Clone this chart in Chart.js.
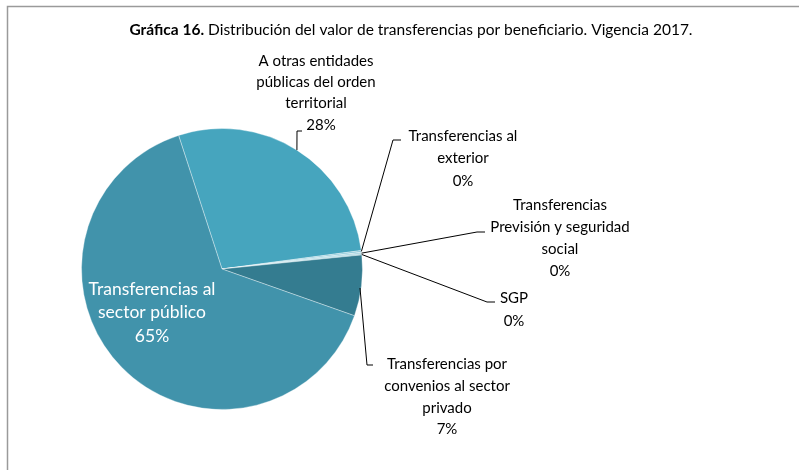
<!DOCTYPE html>
<html>
<head>
<meta charset="utf-8">
<script src="https://cdn.jsdelivr.net/npm/chart.js@4/dist/chart.umd.min.js"></script>
<style>
  html, body { margin: 0; padding: 0; background: #ffffff; }
  #wrap { position: relative; width: 799px; height: 470px; }
</style>
</head>
<body>
<div id="wrap"><canvas id="c" width="799" height="470"></canvas></div>
<script>
// ---- Data ----
const categories = [
  "A otras entidades públicas del orden territorial",
  "Transferencias al exterior",
  "Transferencias Previsión y seguridad social",
  "SGP",
  "Transferencias por convenios al sector privado",
  "Transferencias al sector público"
];
const labelLines = [
  ["A otras entidades", "públicas del orden", "territorial"],
  ["Transferencias al", "exterior"],
  ["Transferencias", "Previsión y seguridad", "social"],
  ["SGP"],
  ["Transferencias por", "convenios al sector", "privado"],
  ["Transferencias al", "sector público"]
];
const shares = [27.9, 0.2, 0.2, 0.1, 7.0, 64.6];
const sliceColors = ["#46a5be", "#8cc8d9", "#a8d6e2", "#6db6ca", "#347c90", "#4193ab"];

// ---- Label layout (positions only) ----
const FONT = "Lato, 'Open Sans', sans-serif";
const labelLayout = [
  { cx: 316, ys: [61, 82, 103, 125], pctX: 321, elbow: [297, 131], end: [302, 131] },
  { cx: 463, ys: [136, 158, 181], elbow: [393, 140], end: [401, 140] },
  { cx: 560, ys: [205, 227, 249, 271], elbow: [477, 232], end: [485, 232] },
  { cx: 514, ys: [298, 321], elbow: [487, 302], end: [495, 302] },
  { cx: 447, ys: [364, 386, 408, 429], elbow: [367, 365], end: [373, 365], from: [360, 288] },
  { cx: 152, ys: [289, 312, 336], inside: true }
];

const labelPlugin = {
  id: 'pieLabels',
  afterDraw(chart) {
    const ctx = chart.ctx;
    const meta = chart.getDatasetMeta(0);
    const data = chart.data.datasets[0].data;
    const total = data.reduce((a, b) => a + b, 0);
    ctx.save();
    // frame
    ctx.strokeStyle = '#9a9a9a';
    ctx.lineWidth = 1.5;
    ctx.beginPath();
    ctx.moveTo(7.5, 470);
    ctx.lineTo(7.5, 6.5);
    ctx.lineTo(799, 6.5);
    ctx.stroke();

    // title
    ctx.textBaseline = 'middle';
    ctx.fillStyle = '#000000';
    const t1 = 'Gráfica 16.';
    const t2 = ' Distribución del valor de transferencias por beneficiario. Vigencia 2017.';
    ctx.font = 'bold 15.5px ' + FONT;
    const w1 = ctx.measureText(t1).width;
    ctx.font = '15.5px ' + FONT;
    const w2 = ctx.measureText(t2).width;
    let tx = 411 - (w1 + w2) / 2;
    ctx.textAlign = 'left';
    ctx.font = 'bold 15.5px ' + FONT;
    ctx.fillText(t1, tx, 30);
    ctx.font = '15.5px ' + FONT;
    ctx.fillText(t2, tx + w1, 30);

    // labels
    meta.data.forEach((arc, i) => {
      const L = labelLayout[i];
      const p = arc.getProps(['x', 'y', 'startAngle', 'endAngle', 'outerRadius'], true);
      const mid = (p.startAngle + p.endAngle) / 2;
      const ax = p.x + p.outerRadius * Math.cos(mid);
      const ay = p.y + p.outerRadius * Math.sin(mid);
      const pct = Math.round(data[i] / total * 100) + '%';
      const lines = labelLines[i].concat([pct]);
      if (!L.inside) {
        ctx.strokeStyle = '#000000';
        ctx.lineWidth = 1;
        ctx.beginPath();
        const s = L.from ? L.from : [ax, ay];
        ctx.moveTo(s[0], s[1]);
        ctx.lineTo(L.elbow[0], L.elbow[1]);
        ctx.lineTo(L.end[0], L.end[1]);
        ctx.stroke();
        ctx.fillStyle = '#000000';
        ctx.font = '15px ' + FONT;
      } else {
        ctx.fillStyle = '#ffffff';
        ctx.font = '17.5px ' + FONT;
      }
      ctx.textAlign = 'center';
      ctx.textBaseline = 'middle';
      lines.forEach((ln, k) => {
        const x = (k === lines.length - 1 && L.pctX) ? L.pctX : L.cx;
        ctx.fillText(ln, x, L.ys[k]);
      });
    });
    ctx.restore();
  }
};

new Chart(document.getElementById('c'), {
  type: 'pie',
  data: {
    labels: categories,
    datasets: [{
      data: shares,
      backgroundColor: sliceColors,
      borderColor: 'rgba(255,255,255,0.35)',
      borderWidth: 1
    }]
  },
  options: {
    responsive: false,
    animation: false,
    rotation: -18,
    layout: { padding: { left: 81, right: 436, top: 128, bottom: 60 } },
    plugins: {
      legend: { display: false },
      tooltip: { enabled: false },
      title: { display: false }
    }
  },
  plugins: [labelPlugin]
});
</script>
</body>
</html>
